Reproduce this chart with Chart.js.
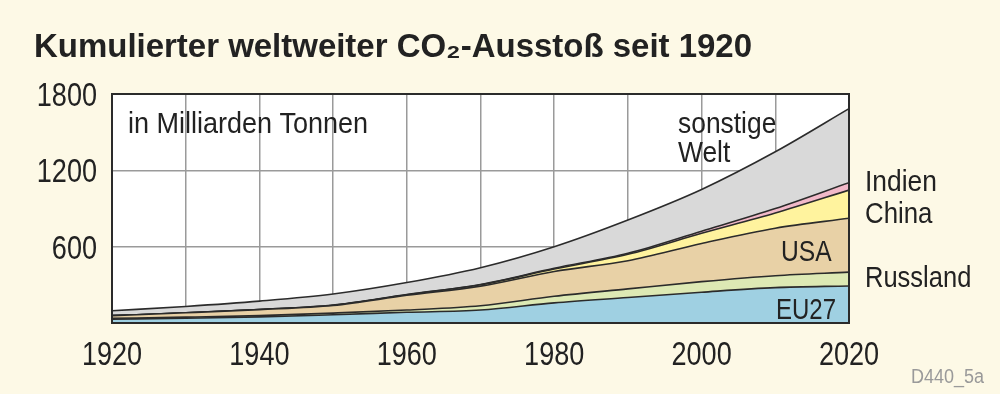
<!DOCTYPE html>
<html>
<head>
<meta charset="utf-8">
<script src="https://cdn.jsdelivr.net/npm/chart.js@4"></script>
<style>
  html, body { margin: 0; padding: 0; background: #fdf9e6; }
  #wrap { width: 1000px; height: 394px; position: relative; }
</style>
</head>
<body>
<div id="wrap"><canvas id="co2Chart" width="1000" height="394"></canvas></div>
<script>
// Cumulative emissions since 1920, per layer (Mrd. t)
const years = [1920, 1930, 1940, 1950, 1960, 1970, 1980, 1990, 2000, 2010, 2020];
const eu27     = [30, 38, 48, 65, 84, 102, 158, 200, 242, 278, 291];
const russland = [7, 8, 10, 13, 18, 33, 52, 68, 83, 94, 109];
const usa      = [21, 34, 47, 60, 116, 155, 195, 222, 300, 373, 423];
const china    = [0, 0, 1, 2, 4, 10, 20, 50, 80, 120, 222];
const indien   = [0, 0, 0, 1, 2, 3, 5, 8, 17, 35, 58];
const sonstige = [38, 50, 66, 87, 94, 132, 170, 262, 328, 446, 582];
const yTicks = [600, 1200, 1800];
const xTicks = [1920, 1940, 1960, 1980, 2000, 2020];

const FONT = "'Liberation Sans', Arial, sans-serif";
const NARROW = 0.82; // the original uses a condensed face
const LINE = "#2b2b2b";

function layer(label, values, color, fill) {
    return {
        label: label,
        data: years.map((y, i) => ({ x: y, y: values[i] })),
        backgroundColor: color,
        borderColor: LINE,
        borderWidth: 1.6,
        pointRadius: 0,
        cubicInterpolationMode: "monotone",
        fill: fill,
    };
}

// Helper: draw horizontally condensed text
function text(ctx, str, x, y, font, align, sx) {
    sx = sx || NARROW;
    ctx.save();
    ctx.font = font;
    ctx.textAlign = align || "left";
    ctx.textBaseline = "alphabetic";
    ctx.translate(x, y);
    ctx.scale(sx, 1);
    ctx.fillText(str, 0, 0);
    ctx.restore();
}

const decor = {
    id: "decor",
    beforeDraw(chart) {
        const { ctx, chartArea: a } = chart;
        ctx.save();
        ctx.fillStyle = "#ffffff";
        ctx.fillRect(a.left, a.top, a.right - a.left, a.bottom - a.top);
        ctx.restore();
    },
    afterDraw(chart) {
        const { ctx, chartArea: a } = chart;
        const xs = chart.scales.x, ys = chart.scales.y;
        ctx.save();
        ctx.strokeStyle = LINE;
        ctx.lineWidth = 2;
        ctx.strokeRect(a.left, a.top, a.right - a.left, a.bottom - a.top);

        ctx.fillStyle = "#222";
        // title, squeezed to the original width
        const title = "Kumulierter weltweiter CO\u2082-Ausstoß seit 1920";
        ctx.font = "bold 34px " + FONT;
        const tw = ctx.measureText(title).width;
        text(ctx, title, 34, 57, ctx.font, "left", 718 / tw);

        // axis labels from the scales
        const tickFont = "33px " + FONT;
        yTicks.forEach((v) => text(ctx, String(v), 97, ys.getPixelForValue(v) + 12, tickFont, "right"));
        xTicks.forEach((v) => text(ctx, String(v), xs.getPixelForValue(v), 365, tickFont, "center"));

        const lab = "30px " + FONT;
        text(ctx, "in Milliarden Tonnen", 128, 133, lab, "left", 0.9);
        text(ctx, "sonstige", 678, 133, lab, "left", 0.88);
        text(ctx, "Welt", 678, 162, lab, "left", 0.88);
        text(ctx, "Indien", 865, 191, lab, "left", 0.88);
        text(ctx, "China", 865, 223, lab, "left", 0.86);
        text(ctx, "Russland", 865, 287, lab, "left", 0.85);
        text(ctx, "USA", 781, 261, lab);
        text(ctx, "EU27", 776, 319, lab, "left", 0.8);

        ctx.fillStyle = "#9a9a9a";
        text(ctx, "D440_5a", 911, 383, "20px " + FONT, "left", 0.9);
        ctx.restore();
    },
};

const ctx = document.getElementById("co2Chart").getContext("2d");
new Chart(ctx, {
    type: "line",
    data: {
        datasets: [
            layer("EU27", eu27, "#9fd0e2", "origin"),
            layer("Russland", russland, "#dde9b4", "-1"),
            layer("USA", usa, "#e8d1a6", "-1"),
            layer("China", china, "#fff39e", "-1"),
            layer("Indien", indien, "#f2b9c9", "-1"),
            layer("sonstige Welt", sonstige, "#d9d9d9", "-1"),
        ],
    },
    options: {
        responsive: false,
        animation: false,
        layout: { padding: { left: 0, top: 94, right: 151, bottom: 0 } },
        plugins: { legend: { display: false }, tooltip: { enabled: false } },
        scales: {
            x: {
                type: "linear",
                min: 1920,
                max: 2020,
                z: 1,
                afterFit(scale) { scale.height = 71; },
                grid: { color: "#9a9a9a", lineWidth: 1.5, drawTicks: false },
                border: { display: false },
                ticks: { stepSize: 10, display: false, autoSkip: false },
            },
            y: {
                stacked: true,
                min: 0,
                max: 1800,
                z: 1,
                afterFit(scale) { scale.width = 112; },
                grid: { color: "#9a9a9a", lineWidth: 1.5, drawTicks: false },
                border: { display: false },
                ticks: { stepSize: 600, display: false },
            },
        },
    },
    plugins: [decor],
});
</script>
</body>
</html>
